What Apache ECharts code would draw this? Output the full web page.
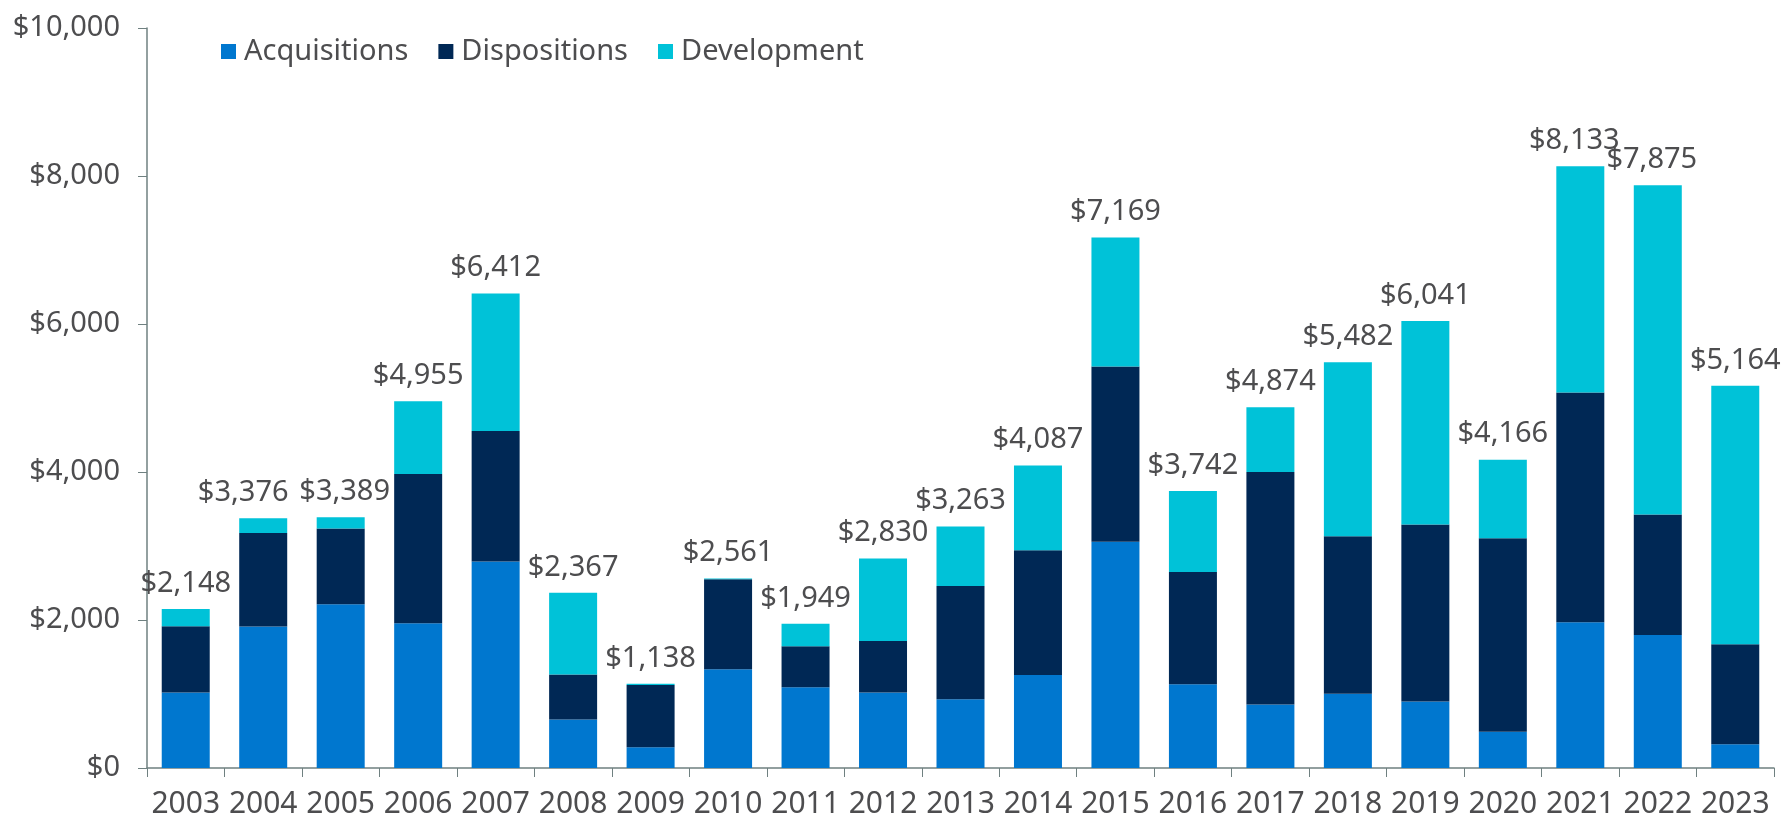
<!DOCTYPE html>
<html>
<head>
<meta charset="utf-8">
<script src="https://cdn.jsdelivr.net/npm/echarts@6/dist/echarts.min.js"></script>
<style>
  html, body { margin: 0; padding: 0; background: #fff; }
  #chart { width: 1791px; height: 817px; }
</style>
</head>
<body>
<div id="chart"></div>
<script>
// values ($ millions)
var years = ['2003','2004','2005','2006','2007','2008','2009','2010','2011','2012','2013',
             '2014','2015','2016','2017','2018','2019','2020','2021','2022','2023'];
var acquisitions = [1019, 1911, 2212, 1955, 2789, 654, 280, 1334, 1091, 1019, 928,
                    1257, 3059, 1131, 857, 1005, 897, 491, 1969, 1797, 320];
var dispositions = [896, 1265, 1023, 2018, 1765, 608, 842, 1217, 554, 697, 1532,
                    1685, 2365, 1518, 3143, 2126, 2392, 2613, 3104, 1627, 1352];
var totals = [2148, 3376, 3389, 4955, 6412, 2367, 1138, 2561, 1949, 2830, 3263,
              4087, 7169, 3742, 4874, 5482, 6041, 4166, 8133, 7875, 5164];
var development = [232, 200, 154, 982, 1858, 1105, 16, 10, 304, 1114, 803,
                   1145, 1745, 1093, 874, 2351, 2752, 1062, 3060, 4451, 3492];

var textColor = '#4d4d4f';
var axisColor = '#6f8080';
var fontFam = '"Noto Sans", sans-serif';

function money(v) {
    return '$' + v.toLocaleString('en-US');
}

// a few total labels are nudged sideways in the original so they don't collide
var labelShift = { 1: -20, 2: 4, 18: -6, 19: -6 };
var devData = development.map(function (v, i) {
    if (labelShift[i] !== undefined) return { value: v, label: { offset: [labelShift[i], 0] } };
    return v;
});

var myChart = echarts.init(document.getElementById('chart'));

var option = {
    animation: false,
    textStyle: { fontFamily: fontFam },
    legend: {
        left: 216,
        top: 32,
        itemWidth: 15,
        itemHeight: 15,
        itemGap: 30,
        icon: 'rect',
        textStyle: { color: textColor, fontSize: 29, fontFamily: fontFam, padding: [0, 0, 0, 3] },
        data: ['Acquisitions', 'Dispositions', 'Development']
    },
    grid: { left: 147, right: 17, top: 28, bottom: 49, outerBoundsMode: 'none' },
    xAxis: {
        type: 'category',
        data: years,
        axisLine: { lineStyle: { color: axisColor, width: 1.5 } },
        axisTick: { show: true, length: 9, lineStyle: { color: axisColor } },
        axisLabel: { color: textColor, fontSize: 30, margin: 21, interval: 0 }
    },
    yAxis: {
        type: 'value',
        min: 0,
        max: 10000,
        interval: 2000,
        axisLine: { show: true, lineStyle: { color: axisColor, width: 1.5 } },
        axisTick: { show: true, length: 9, lineStyle: { color: axisColor } },
        splitLine: { show: false },
        axisLabel: {
            color: textColor, fontSize: 29, margin: 27,
            formatter: function (v) { return money(v); }
        }
    },
    series: [
        {
            name: 'Acquisitions',
            type: 'bar',
            stack: 'total',
            barWidth: 48,
            itemStyle: { color: '#0077cf' },
            data: acquisitions
        },
        {
            name: 'Dispositions',
            type: 'bar',
            stack: 'total',
            itemStyle: { color: '#002855' },
            data: dispositions
        },
        {
            name: 'Development',
            type: 'bar',
            stack: 'total',
            itemStyle: { color: '#00c2d8' },
            label: {
                show: true,
                position: 'top',
                distance: 11,
                color: textColor,
                fontSize: 29,
                formatter: function (p) { return money(totals[p.dataIndex]); }
            },
            data: devData
        }
    ]
};
myChart.setOption(option);
</script>
</body>
</html>
